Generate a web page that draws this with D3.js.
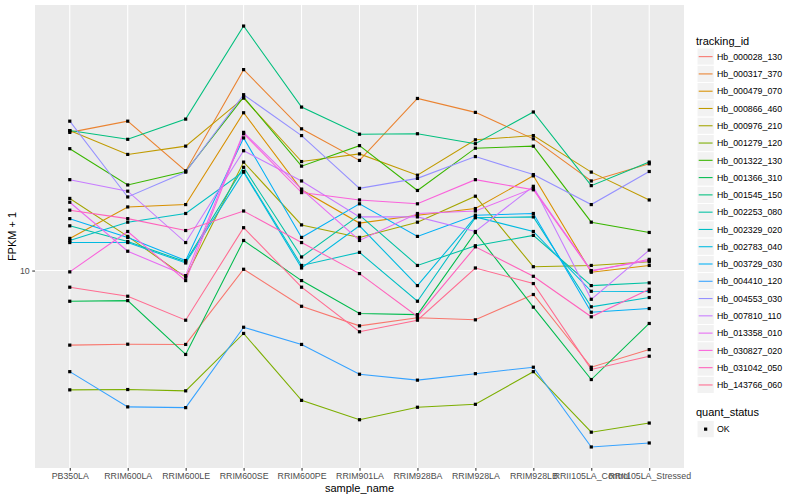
<!DOCTYPE html>
<html>
<head>
<meta charset="utf-8">
<script src="https://cdnjs.cloudflare.com/ajax/libs/d3/7.8.5/d3.min.js"></script>
<style>
    body { margin: 0; background: #fff; }
    text { font-family: "Liberation Sans", Arial, sans-serif; }
</style>
</head>
<body>
<div id="chart"></div>
<script>
var samples = ["PB350LA", "RRIM600LA", "RRIM600LE", "RRIM600SE", "RRIM600PE", "RRIM901LA",
    "RRIM928BA", "RRIM928LA", "RRIM928LB", "RRII105LA_Control", "RRII105LA_Stressed"];

var trackingIds = ["Hb_000028_130", "Hb_000317_370", "Hb_000479_070", "Hb_000866_460", "Hb_000976_210",
    "Hb_001279_120", "Hb_001322_130", "Hb_001366_310", "Hb_001545_150", "Hb_002253_080",
    "Hb_002329_020", "Hb_002783_040", "Hb_003729_030", "Hb_004410_120", "Hb_004553_030",
    "Hb_007810_110", "Hb_013358_010", "Hb_030827_020", "Hb_031042_050", "Hb_143766_060"];

// FPKM + 1, one value per sample (same order as samples)
var hb_000028_130 = [5.64, 5.68, 5.67, 10.1, 7.60, 6.54, 6.96, 6.85, 8.32, 4.76, 5.45];
var hb_000317_370 = [28.9, 31.5, 21.5, 46.8, 29.7, 23.3, 37.5, 33.7, 27.5, 19.9, 22.7];
var hb_000479_070 = [12.8, 16.3, 16.6, 33.6, 18.6, 14.4, 15.3, 16.1, 20.7, 9.87, 10.4];
var hb_000866_460 = [29.3, 24.4, 26.0, 37.6, 23.1, 24.5, 20.8, 27.3, 28.2, 21.3, 17.2];
var hb_000976_210 = [17.4, 13.0, 9.50, 23.0, 14.2, 12.9, 14.5, 17.7, 10.3, 10.4, 10.7];
var hb_001279_120 = [4.00, 4.01, 3.97, 6.17, 3.69, 3.18, 3.50, 3.58, 4.60, 2.89, 3.10];
var hb_001322_130 = [25.5, 19.3, 21.4, 37.9, 22.3, 26.1, 18.5, 25.6, 26.0, 14.5, 13.4];
var hb_001366_310 = [7.90, 7.94, 5.25, 12.6, 9.26, 7.19, 7.13, 13.4, 7.55, 4.33, 6.66];
var hb_001545_150 = [29.3, 27.4, 32.0, 65.4, 35.1, 28.5, 28.6, 26.5, 33.8, 19.2, 23.0];
var hb_002253_080 = [14.1, 12.5, 10.7, 22.1, 11.1, 15.3, 10.4, 12.1, 13.1, 8.91, 9.10];
var hb_002329_020 = [12.6, 14.5, 15.5, 21.4, 10.4, 11.5, 7.90, 15.0, 15.1, 7.57, 8.13];
var hb_002783_040 = [12.4, 12.4, 10.6, 21.3, 10.2, 14.1, 8.91, 15.1, 13.5, 8.53, 8.51];
var hb_003729_030 = [14.9, 12.9, 10.8, 27.7, 12.9, 16.7, 13.0, 15.3, 15.5, 7.26, 7.47];
var hb_004410_120 = [4.60, 3.51, 3.49, 6.47, 5.67, 4.51, 4.31, 4.53, 4.76, 2.58, 2.66];
var hb_004553_030 = [31.5, 17.6, 21.3, 38.6, 28.2, 18.8, 20.3, 24.0, 20.9, 16.6, 21.4];
var hb_007810_110 = [20.1, 18.4, 12.4, 25.1, 19.9, 15.1, 15.1, 13.5, 19.1, 8.02, 11.7];
var hb_013358_010 = [16.9, 11.6, 9.62, 28.9, 18.7, 12.6, 15.5, 15.8, 18.8, 10.0, 10.8];
var hb_030827_020 = [9.90, 13.5, 9.26, 28.6, 18.2, 17.2, 16.7, 20.1, 18.6, 9.95, 10.9];
var hb_031042_050 = [15.9, 14.9, 13.6, 15.8, 12.4, 9.77, 7.03, 12.0, 9.57, 7.01, 8.66];
var hb_143766_060 = [8.80, 8.21, 6.83, 13.9, 8.80, 6.25, 6.83, 10.2, 9.05, 4.68, 5.18];

var yTicks = [10];

var hues = ["#F8766D", "#EA8331", "#D89000", "#C09B00", "#A3A500", "#7CAE00", "#39B600", "#00BB4E",
    "#00BF7D", "#00C1A3", "#00BFC4", "#00BAE0", "#00B0F6", "#35A2FF", "#9590FF", "#C77CFF",
    "#E76BF3", "#FA62DB", "#FF62BC", "#FF6C91"];

var valueLists = [hb_000028_130, hb_000317_370, hb_000479_070, hb_000866_460, hb_000976_210,
    hb_001279_120, hb_001322_130, hb_001366_310, hb_001545_150, hb_002253_080,
    hb_002329_020, hb_002783_040, hb_003729_030, hb_004410_120, hb_004553_030,
    hb_007810_110, hb_013358_010, hb_030827_020, hb_031042_050, hb_143766_060];

var series = trackingIds.map(function (id, i) {
    return {
        id: id,
        values: valueLists[i].map(function (v, j) { return {sample: samples[j], value: v}; })
    };
});

var width = 800, height = 500;
var panel = {left: 35, right: 684, top: 5, bottom: 468};

var svg = d3.select("#chart").append("svg")
    .attr("width", width)
    .attr("height", height);

var x = d3.scalePoint()
    .domain(samples)
    .range([panel.left, panel.right])
    .padding(0.6);

// log scale with ggplot style 5% expansion in log space
var allValues = d3.merge(valueLists);
var logMin = Math.log10(d3.min(allValues)), logMax = Math.log10(d3.max(allValues));
var pad = (logMax - logMin) * 0.05;
var y = d3.scaleLog()
    .domain([Math.pow(10, logMin - pad), Math.pow(10, logMax + pad)])
    .range([panel.bottom, panel.top]);

var color = d3.scaleOrdinal().domain(trackingIds).range(hues);

svg.append("rect")
    .attr("x", panel.left).attr("y", panel.top)
    .attr("width", panel.right - panel.left)
    .attr("height", panel.bottom - panel.top)
    .attr("fill", "#EBEBEB");

var grid = svg.append("g");
grid.selectAll("line.v").data(samples).enter().append("line")
    .attr("x1", function (d) { return x(d); })
    .attr("x2", function (d) { return x(d); })
    .attr("y1", panel.top).attr("y2", panel.bottom)
    .attr("stroke", "#fff").attr("stroke-width", 1.07);
grid.selectAll("line.h").data(yTicks).enter().append("line")
    .attr("x1", panel.left).attr("x2", panel.right)
    .attr("y1", function (d) { return y(d); })
    .attr("y2", function (d) { return y(d); })
    .attr("stroke", "#fff").attr("stroke-width", 1.07);

var line = d3.line()
    .x(function (d) { return x(d.sample); })
    .y(function (d) { return y(d.value); });

svg.append("g").selectAll("path")
    .data(series)
    .enter().append("path")
    .attr("d", function (d) { return line(d.values); })
    .attr("fill", "none")
    .attr("stroke", function (d) { return color(d.id); })
    .attr("stroke-width", 1.07);

var pts = d3.merge(series.map(function (s) { return s.values; }));
svg.append("g").selectAll("rect")
    .data(pts)
    .enter().append("rect")
    .attr("x", function (d) { return x(d.sample) - 1.6; })
    .attr("y", function (d) { return y(d.value) - 1.6; })
    .attr("width", 3.2).attr("height", 3.2)
    .attr("fill", "#000");

// axes
var xAxis = svg.append("g")
    .attr("transform", "translate(0," + panel.bottom + ")")
    .call(d3.axisBottom(x).tickSizeInner(2.75).tickSizeOuter(0).tickPadding(2.5));
var yAxis = svg.append("g")
    .attr("transform", "translate(" + panel.left + ",0)")
    .call(d3.axisLeft(y).tickValues(yTicks).tickFormat(d3.format("d")).tickSizeInner(2.75).tickSizeOuter(0).tickPadding(2.5));

[xAxis, yAxis].forEach(function (ax) {
    ax.select(".domain").remove();
    ax.selectAll(".tick line").attr("stroke", "#333333").attr("stroke-width", 1.07);
    ax.selectAll(".tick text")
        .attr("fill", "#4D4D4D")
        .style("font-size", "8.8px")
        .style("font-family", "'Liberation Sans', Arial, sans-serif");
});

svg.append("text")
    .attr("x", (panel.left + panel.right) / 2)
    .attr("y", 492)
    .attr("text-anchor", "middle")
    .style("font-size", "11px")
    .text("sample_name");

svg.append("text")
    .attr("transform", "translate(16," + ((panel.top + panel.bottom) / 2) + ") rotate(-90)")
    .attr("text-anchor", "middle")
    .style("font-size", "11px")
    .text("FPKM + 1");

// legend: tracking_id
var keySize = 17.28;
var legend = svg.append("g").attr("transform", "translate(696,0)");
legend.append("text")
    .attr("x", 0).attr("y", 44.5)
    .style("font-size", "11px")
    .text("tracking_id");

var keys = legend.selectAll("g.key")
    .data(trackingIds)
    .enter().append("g")
    .attr("class", "key")
    .attr("transform", function (d, i) { return "translate(1," + (48 + i * keySize) + ")"; });
keys.append("rect")
    .attr("width", keySize).attr("height", keySize)
    .attr("fill", "#F2F2F2").attr("stroke", "#fff");
keys.append("line")
    .attr("x1", 1.7).attr("x2", keySize - 1.7)
    .attr("y1", keySize / 2).attr("y2", keySize / 2)
    .attr("stroke", function (d) { return color(d); })
    .attr("stroke-width", 1.07);
keys.append("text")
    .attr("x", 20).attr("y", keySize / 2 + 3.2)
    .style("font-size", "8.8px")
    .text(function (d) { return d; });

// legend: quant_status
legend.append("text")
    .attr("x", 0).attr("y", 416)
    .style("font-size", "11px")
    .text("quant_status");
var ok = legend.append("g").attr("transform", "translate(1,420.5)");
ok.append("rect")
    .attr("width", keySize).attr("height", keySize)
    .attr("fill", "#F2F2F2").attr("stroke", "#fff");
ok.append("rect")
    .attr("x", keySize / 2 - 1.6).attr("y", keySize / 2 - 1.6)
    .attr("width", 3.2).attr("height", 3.2)
    .attr("fill", "#000");
ok.append("text")
    .attr("x", 20).attr("y", keySize / 2 + 3.2)
    .style("font-size", "8.8px")
    .text("OK");
</script>
</body>
</html>
